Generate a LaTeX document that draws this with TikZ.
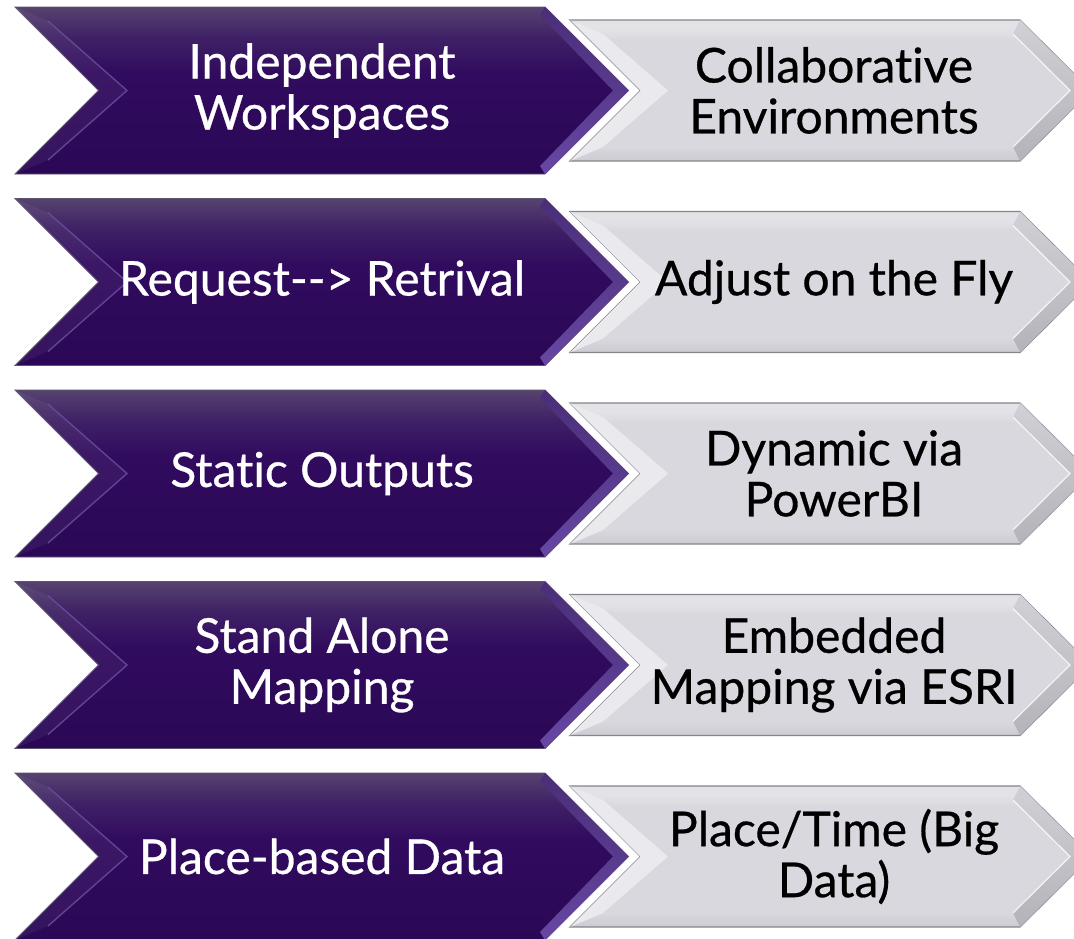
\documentclass[tikz,border=0pt]{standalone}
\usepackage{fontspec}
\setmainfont{Lato}
\newfontfamily\labelfont{Lato}[FakeBold=0.6, Ligatures=NoCommon]
\usetikzlibrary{calc}
\definecolor{purpTop}{HTML}{56436F}
\definecolor{purpMid}{HTML}{3F2166}
\definecolor{purpDark}{HTML}{310B5E}
\definecolor{purpBot}{HTML}{2B0856}
\definecolor{purpEdge}{HTML}{5E5470}
\definecolor{purpHi}{HTML}{6A4C9E}
\definecolor{purpRA}{HTML}{4A2E78}
\definecolor{purpRB}{HTML}{6747A3}
\definecolor{grayTop}{HTML}{E3E3E7}
\definecolor{grayMid}{HTML}{D8D8DE}
\definecolor{grayBot}{HTML}{CBCBD1}
\definecolor{grayEdge}{HTML}{85858B}
\definecolor{grayLight}{HTML}{EAEAEE}
\definecolor{grayRA}{HTML}{D0D0D6}
\definecolor{grayRB}{HTML}{B3B3B9}
\pgfdeclareverticalshading{purpgrad}{100bp}{color(0bp)=(purpBot); color(25bp)=(purpBot); color(55bp)=(purpDark); color(66bp)=(purpMid); color(75bp)=(purpTop); color(100bp)=(purpTop)}
\pgfdeclareverticalshading{graygrad}{100bp}{color(0bp)=(grayBot); color(25bp)=(grayBot); color(30bp)=(grayMid); color(68bp)=(grayMid); color(72bp)=(grayTop); color(100bp)=(grayTop)}
\tikzset{
  lefttext/.style={text=white, align=center, inner sep=0pt, font=\labelfont\fontsize{48pt}{51pt}\selectfont},
  righttext/.style={text=black, align=center, inner sep=0pt, font=\labelfont\fontsize{48pt}{51pt}\selectfont},
  purpbody/.style={shading=purpgrad, draw=purpEdge, line width=0.8pt},
  purpleftbevel/.style={fill=white, fill opacity=0.05},
  purphiline/.style={draw=purpHi, line width=1.4pt, opacity=0.85},
  purprightbevel/.style={top color=purpRA, bottom color=purpRB},
  graybody/.style={shading=graygrad, draw=grayEdge, line width=1.2pt},
  grayleftbevel/.style={fill=grayLight},
  grayrightbevel/.style={top color=grayRA, bottom color=grayRB},
  grayhiline/.style={draw=white, line width=1.2pt, opacity=0.8}
}
\begin{document}
\begin{tikzpicture}[x=1pt, y=-1pt]
\useasboundingbox (0,0) rectangle (1074,938);
\clip (0,0) rectangle (1074,938);
\fill[white] (0,0) rectangle (1074,938);
\foreach \i/\lt/\rt in {
  0/{Independent\\Workspaces}/{Collaborative\\Environments},
  1/{Request-\kern0pt-> Retrival}/{Adjust on the Fly},
  2/{Static Outputs}/{Dynamic via\\PowerBI},
  3/{Stand Alone\\Mapping}/{Embedded\\Mapping via ESRI},
  4/{Place-based Data}/{Place/Time (Big\\Data)}}{
  \pgfmathsetmacro\T{7+191.5*\i}
  \pgfmathsetmacro\B{\T+167}
  \pgfmathsetmacro\C{\T+83.5}
  % purple chevron
  \shadedraw[purpbody] (15,\T) -- (545,\T) -- (628.5,\C) -- (545,\B) -- (15,\B) -- (98.5,\C) -- cycle;
  \fill[purpleftbevel] (15,\T) -- (98.5,\C) -- (15,\B) -- (48,\B-14) -- (127,\C) -- (48,\T+14) -- cycle;
  \draw[purphiline] (48,\T+14) -- (127,\C) -- (48,\B-14);
  \shade[purprightbevel] (545,\T) -- (628.5,\C) -- (545,\B) -- (540,\B-8) -- (613,\C) -- (540,\T+8) -- cycle;
  % gray chevron
  \shadedraw[graybody] (570,\T+13) -- (1020,\T+13) -- (1091,\C) -- (1020,\B-13) -- (570,\B-13) -- (640.5,\C) -- cycle;
  \fill[grayleftbevel] (570,\T+13) -- (640.5,\C) -- (570,\B-13) -- (603,\B-27) -- (668,\C) -- (603,\T+27) -- cycle;
  \shade[grayrightbevel] (1020,\T+13) -- (1091,\C) -- (1020,\B-13) -- (1013,\B-27) -- (1070,\C) -- (1013,\T+27) -- cycle;
  \draw[grayhiline] (1013,\T+27) -- (1070,\C) -- (1013,\B-27);
  % texts
  \node[lefttext] (L\i) at (322,\C) {\rule{0pt}{35pt}\lt};
  \node[righttext] (R\i) at (834,\C) {\rule{0pt}{35pt}\rt};
}
\end{tikzpicture}
\end{document}
